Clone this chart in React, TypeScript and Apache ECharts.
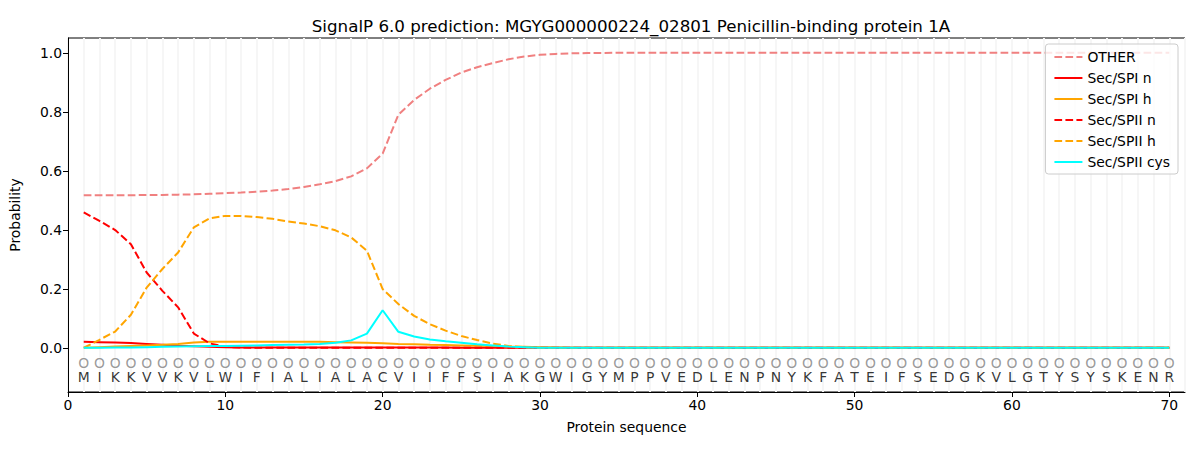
import React, { useEffect, useRef } from "react";
import * as echarts from "echarts";

const residues = "MIKKVVKVLWIFIALIALACVIIFFSIAKGWIGYMPPVEDLENPNYKFATEIFSEDGKVLGTYSYSKENR".split("");

const other = [0.517, 0.517, 0.517, 0.517, 0.518, 0.518, 0.519, 0.520, 0.522, 0.524, 0.526, 0.529, 0.533, 0.538, 0.545, 0.554, 0.565, 0.581, 0.608, 0.658, 0.790, 0.840, 0.878, 0.908, 0.933, 0.951, 0.965, 0.978, 0.987, 0.993, 0.996, 0.998, 0.999, 0.999, 1.0];
const spiN = [0.020, 0.019, 0.018, 0.016, 0.013, 0.010, 0.007, 0.005, 0.003, 0.002, 0.001, 0.001, 0.001, 0.001, 0.001, 0.001, 0.001, 0.001, 0.001, 0.001, 0.001, 0.001, 0.001, 0.001, 0.0, 0.0];
const spiH = [0.0, 0.002, 0.004, 0.006, 0.008, 0.010, 0.013, 0.018, 0.020, 0.020, 0.020, 0.020, 0.020, 0.020, 0.020, 0.020, 0.019, 0.018, 0.017, 0.015, 0.013, 0.012, 0.010, 0.009, 0.008, 0.007, 0.006, 0.004, 0.003, 0.002, 0.001, 0.0];
const spiiN = [0.459, 0.430, 0.399, 0.351, 0.255, 0.193, 0.137, 0.048, 0.015, 0.003, 0.001, 0.0];
const spiiH = [0.0, 0.027, 0.055, 0.112, 0.204, 0.267, 0.323, 0.408, 0.439, 0.447, 0.447, 0.443, 0.437, 0.428, 0.421, 0.412, 0.398, 0.374, 0.329, 0.199, 0.148, 0.108, 0.080, 0.058, 0.040, 0.026, 0.014, 0.006, 0.002, 0.0];
const spiiCys = [0.0, 0.0, 0.001, 0.001, 0.002, 0.003, 0.004, 0.005, 0.006, 0.006, 0.007, 0.008, 0.009, 0.010, 0.011, 0.013, 0.017, 0.025, 0.048, 0.127, 0.054, 0.038, 0.028, 0.022, 0.017, 0.012, 0.008, 0.004, 0.002, 0.0];

const yTicks = [0, 0.2, 0.4, 0.6, 0.8, 1.0];
const xTicks = [0, 10, 20, 30, 40, 50, 60, 70];

const full = (arr: number[]) =>
  residues.map((_, i) => [i + 1, i < arr.length ? arr[i] : arr[arr.length - 1]]);

const FONT = "DejaVu Sans";

export default function App() {
  const ref = useRef<HTMLDivElement>(null);
  useEffect(() => {
    const chart = echarts.init(ref.current!, null, { renderer: "svg" });
    const dashed = { type: [7.7, 3.3] as any };
    const lineBase = (name: string, data: number[], color: string, dash: boolean, z = 3) => ({
      name,
      type: "line",
      data: full(data),
      symbol: "none",
      showSymbol: false,
      xAxisIndex: 0,
      yAxisIndex: 0,
      z,
      lineStyle: { color, width: 2, ...(dash ? dashed : { type: "solid" }) },
      itemStyle: { color },
    });
    const option: any = {
      animation: false,
      backgroundColor: "#ffffff",
      textStyle: { fontFamily: FONT },
      title: {
        text: "SignalP 6.0 prediction: MGYG000000224_02801 Penicillin-binding protein 1A",
        left: 626,
        textAlign: "center",
        top: 12,
        textStyle: { fontFamily: FONT, fontSize: 16.7, fontWeight: "normal", color: "#000" },
      },
      grid: {
        left: 67,
        right: 15,
        top: 38,
        bottom: 58,
        show: true,
        borderColor: "#000",
        borderWidth: 1,
        backgroundColor: "transparent",
      },
      legend: {
        orient: "vertical",
        right: 22,
        top: 44,
        padding: [6, 8, 5, 8],
        itemGap: 7,
        itemWidth: 28,
        itemHeight: 14,
        backgroundColor: "rgba(255,255,255,0.8)",
        borderColor: "#cccccc",
        borderWidth: 1,
        borderRadius: 3,
        itemStyle: { opacity: 0, borderWidth: 0 },
        textStyle: { fontFamily: FONT, fontSize: 13.9, color: "#000" },
        data: ["OTHER", "Sec/SPI n", "Sec/SPI h", "Sec/SPII n", "Sec/SPII h", "Sec/SPII cys"],
      },
      xAxis: [
        {
          type: "value",
          min: 0,
          max: 71,
          name: "Protein sequence",
          nameLocation: "middle",
          nameGap: 28,
          nameTextStyle: { fontFamily: FONT, fontSize: 13.9, color: "#000" },
          axisLine: { show: true, onZero: false, lineStyle: { color: "#000", width: 1 } },
          axisTick: { show: true, length: 5, lineStyle: { color: "#000" }, customValues: xTicks },
          axisLabel: {
            show: true,
            margin: 6,
            fontFamily: FONT,
            fontSize: 13.9,
            color: "#000",
            customValues: xTicks,
          },
          splitLine: { show: false },
        },
        {
          type: "value",
          min: 0,
          max: 71,
          position: "bottom",
          axisLine: { show: false },
          axisTick: { show: false },
          axisLabel: { show: false },
          splitLine: { show: true, lineStyle: { color: "#f6f6f6", width: 2 } },
          interval: 1,
        },
      ],
      yAxis: {
        type: "value",
        min: -0.15,
        max: 1.05,
        name: "Probability",
        nameLocation: "middle",
        nameGap: 46,
        nameTextStyle: { fontFamily: FONT, fontSize: 13.9, color: "#000" },
        axisLine: { show: true, lineStyle: { color: "#000", width: 1 } },
        axisTick: { show: true, length: 5, lineStyle: { color: "#000" }, customValues: yTicks },
        axisLabel: {
          show: true,
          margin: 6,
          fontFamily: FONT,
          fontSize: 13.9,
          color: "#000",
          customValues: yTicks,
          formatter: (v: number) => v.toFixed(1),
        },
        splitLine: { show: false },
      },
      series: [
        {
          type: "line",
          xAxisIndex: 1,
          yAxisIndex: 0,
          data: [],
          silent: true,
        },
        lineBase("OTHER", other, "#f08080", true),
        lineBase("Sec/SPI n", spiN, "#ff0000", false),
        lineBase("Sec/SPI h", spiH, "#ffa500", false),
        lineBase("Sec/SPII n", spiiN, "#ff0000", true),
        lineBase("Sec/SPII h", spiiH, "#ffa500", true),
        lineBase("Sec/SPII cys", spiiCys, "#00ffff", false, 4),
        {
          type: "scatter",
          name: "circles",
          silent: true,
          symbolSize: 0,
          data: residues.map((_, i) => [i + 1, -0.05]),
          label: {
            show: true,
            position: "inside",
            formatter: () => "O",
            fontFamily: FONT,
            fontSize: 13.9,
            color: "#808080",
          },
        },
        {
          type: "scatter",
          name: "letters",
          silent: true,
          symbolSize: 0,
          data: residues.map((r, i) => ({ value: [i + 1, -0.1], name: r })),
          label: {
            show: true,
            position: "inside",
            formatter: (p: any) => p.name,
            fontFamily: FONT,
            fontSize: 13.9,
            color: "#000",
          },
        },
      ],
    };
    chart.setOption(option);
    return () => chart.dispose();
  }, []);
  return <div ref={ref} style={{ width: 1200, height: 450, margin: -8 }} />;
}
